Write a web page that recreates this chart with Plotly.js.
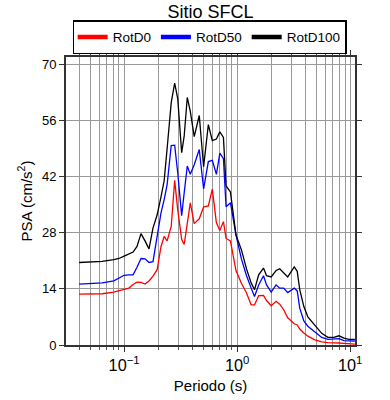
<!DOCTYPE html>
<html>
<head>
<meta charset="utf-8">
<script src="https://cdn.plot.ly/plotly-3.0.1.min.js"></script>
<style>html,body{margin:0;padding:0;background:#fff}#chart{width:390px;height:400px}</style>
</head>
<body>
<div id="chart"></div>
<script>
const periods = [0.04,0.064,0.081,0.09,0.1,0.11,0.12,0.13,0.141,0.153,0.166,0.18,0.196,0.212,0.226,0.24,0.261,0.28,0.298,0.323,0.34,0.362,0.385,0.417,0.462,0.505,0.556,0.603,0.655,0.703,0.756,0.798,0.872,0.976,1.09,1.21,1.33,1.425,1.55,1.71,1.82,2.0,2.21,2.38,2.58,2.8,3.2,3.4,3.58,3.89,4.22,4.87,5.6,6.35,7.18,7.95,8.81,9.76,11.0];
const rotD0 = [12.7,12.8,13.2,13.5,13.8,14.2,15.1,15.7,15.6,15.2,16.0,17.2,18.8,24.6,27.1,26.0,29.6,41.1,33.8,26.3,25.1,30.5,35.5,30.3,31.5,34.5,34.7,38.9,30.5,28.6,30.8,26.6,26.0,18.6,15.4,13.0,10.0,10.0,12.3,12.4,11.1,9.8,10.9,10.2,8.8,6.8,5.3,5.0,4.0,3.0,2.2,1.3,0.8,0.6,0.6,0.5,0.4,0.3,0.2];
const rotD50 = [15.2,15.5,16.0,16.6,17.4,17.5,17.5,19.4,21.6,21.5,20.6,20.8,27.5,33.0,36.3,40.0,49.8,49.9,43.0,32.3,38.0,44.7,42.6,45.0,48.8,39.0,45.8,46.1,42.6,47.9,46.5,34.5,35.5,27.5,21.5,17.3,14.2,12.1,15.0,17.3,15.0,13.2,15.0,14.2,14.2,13.1,14.2,13.5,9.2,6.0,4.7,3.3,1.9,1.4,1.5,1.6,1.1,1.0,1.0];
const rotD100 = [20.6,20.9,21.3,21.6,22.2,22.7,23.2,24.6,27.8,26.0,24.0,29.2,32.5,37.0,41.0,49.0,60.5,65.4,61.5,48.0,52.2,61.8,58.3,52.0,57.3,44.5,55.0,51.0,51.4,53.2,51.8,39.7,38.2,27.5,23.8,19.0,15.5,13.8,17.5,19.2,17.3,17.0,18.6,19.0,18.0,17.0,19.5,18.4,13.8,9.6,7.0,5.0,2.9,1.9,1.9,2.3,1.7,1.4,1.4];
const seriesNames = ["RotD0","RotD50","RotD100"];
const seriesColors = ["#ff0000","#0000ff","#000000"];
const yTicks = [0,14,28,42,56,70];
const xTickAlias = {"1": "10<sup>0</sup>", "10": "10<sup>1</sup>"};

const font = "Liberation Sans, Arial, Helvetica, sans-serif";
const data = [rotD0, rotD50, rotD100];
const traces = [];
data.forEach((vals, i) => {
  traces.push({type:"scatter", mode:"lines", x: periods, y: vals, name: seriesNames[i],
    legendgroup: seriesNames[i], showlegend: false, line:{color: seriesColors[i], width:1.3}});
});
data.forEach((vals, i) => {
  traces.push({type:"scatter", mode:"lines", x:[null], y:[null], name: seriesNames[i],
    legendgroup: seriesNames[i], showlegend: true, line:{color: seriesColors[i], width:4.5}});
});

const layout = {
  width: 390, height: 400,
  margin: {l: 66, r: 35, t: 57, b: 55},
  paper_bgcolor: "#fff", plot_bgcolor: "#fff",
  font: {family: font, size: 13, color: "#000"},
  title: {text: "Sitio SFCL", x: 0.54, xanchor: "center", y: 0.986, yanchor: "top", font: {family: font, size: 18, color: "#000"}},
  showlegend: true,
  legend: {orientation: "h", x: 0.497, xanchor: "center", y: 1.01, yanchor: "bottom",
           bordercolor: "#000", borderwidth: 1.5, bgcolor: "#fff",
           font: {family: font, size: 13.5, color: "#000"},
           itemwidth: 30, tracegroupgap: 0},
  xaxis: {
    type: "log", range: [Math.log10(0.0306), Math.log10(11.03)],
    dtick: 1, exponentformat: "power", showexponent: "all", labelalias: xTickAlias,
    ticks: "outside", ticklen: 5, tickcolor: "#333", tickwidth: 1,
    showline: true, linecolor: "#333", linewidth: 2, mirror: "ticks",
    showgrid: true, gridcolor: "#999", gridwidth: 1, zeroline: false,
    minor: {ticks: "outside", ticklen: 3, tickcolor: "#555", showgrid: true, gridcolor: "#999", gridwidth: 1},
    title: {text: "Periodo (s)", font: {family: font, size: 15, color: "#000"}, standoff: 8},
    tickfont: {family: font, size: 13, color: "#000"}
  },
  yaxis: {
    range: [0, 71.9], tickvals: yTicks, ticktext: yTicks.map(String),
    ticks: "outside", ticklen: 5, tickcolor: "#333",
    showline: true, linecolor: "#333", linewidth: 2, mirror: "ticks",
    showgrid: true, gridcolor: "#999", gridwidth: 1, zeroline: false,
    title: {text: "PSA (cm/s<sup>2</sup>)", font: {family: font, size: 15, color: "#000"}, standoff: 6},
    tickfont: {family: font, size: 13, color: "#000"}
  }
};
Plotly.newPlot("chart", traces, layout, {displayModeBar: false, staticPlot: true});
</script>
</body>
</html>
